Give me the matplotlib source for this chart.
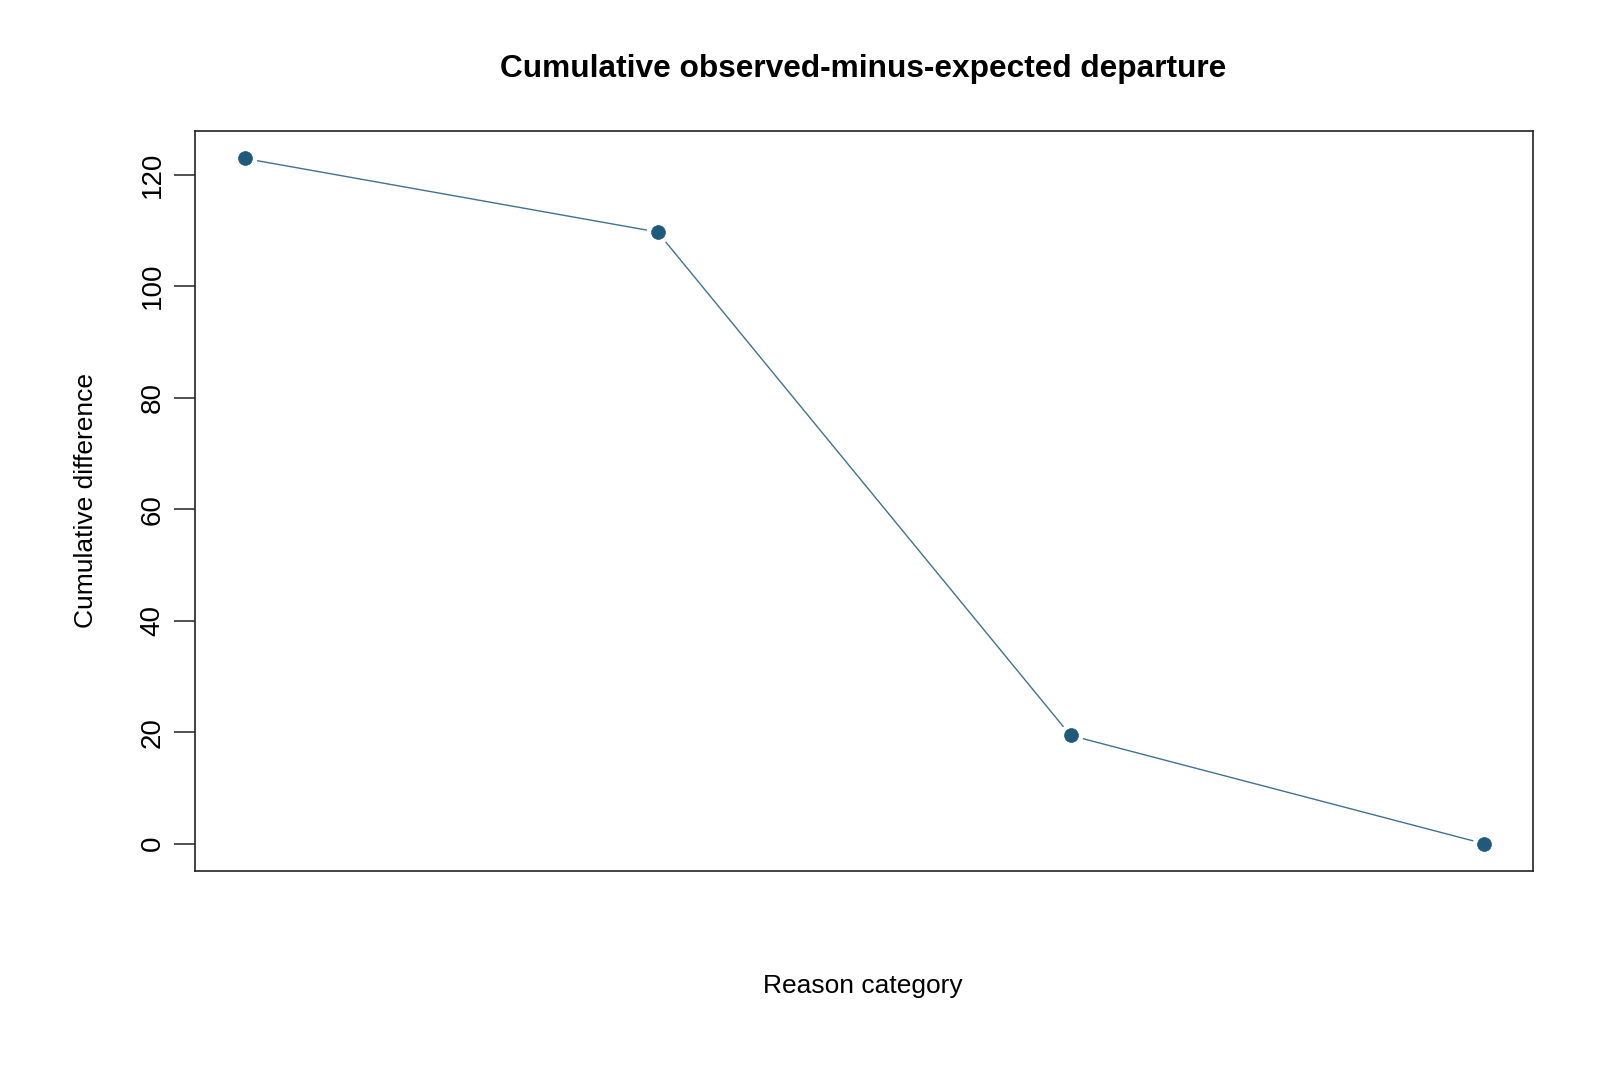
import matplotlib.pyplot as plt
import numpy as np

plt.rcParams['font.family'] = ['Liberation Sans', 'DejaVu Sans']

categories = [1, 2, 3, 4]
cum_diff = [122.9, 109.7, 19.4, 0.0]
yticks = [0, 20, 40, 60, 80, 100, 120]
col = '#1f5a7a'

fig = plt.figure(figsize=(16, 10.67), dpi=100)
ax = fig.add_axes([0.1219, 0.1837, 0.8363, 0.6935])

x = np.array(categories, dtype=float)
y = np.array(cum_diff)
ax.plot(x, y, color=col, lw=1.0, alpha=0.85, zorder=2)
ax.plot(x, y, 'o', color=col, ms=10, mec='white', mew=7, zorder=3)
ax.plot(x, y, 'o', color=col, ms=10, mec=col, mew=0.5, zorder=4)

span = x.max() - x.min()
ax.set_xlim(x.min() - 0.04 * span, x.max() + 0.04 * span)
yr = y.max() - y.min()
ax.set_ylim(y.min() - 0.04 * yr, y.max() + 0.04 * yr)

ax.set_xticks([])
ax.set_yticks(yticks)
ax.set_yticklabels([str(t) for t in yticks], rotation=90, va='center', fontsize=20)
ax.tick_params(axis='y', length=15, width=1.2, color='#333333', pad=6)
for s in ax.spines.values():
    s.set_linewidth(1.2)
    s.set_color('#222222')

cx = 0.5395
fig.text(cx, 1 - 69 / 1067, 'Cumulative observed-minus-expected departure',
         ha='center', va='center', fontsize=22.8, fontweight='bold')
fig.text(cx, 1 - 986 / 1067, 'Reason category', ha='center', va='center', fontsize=19)
fig.text(86 / 1600, 0.5306, 'Cumulative difference', ha='center', va='center',
         rotation=90, fontsize=19)

fig.savefig('out.png', dpi=100, facecolor='white')
